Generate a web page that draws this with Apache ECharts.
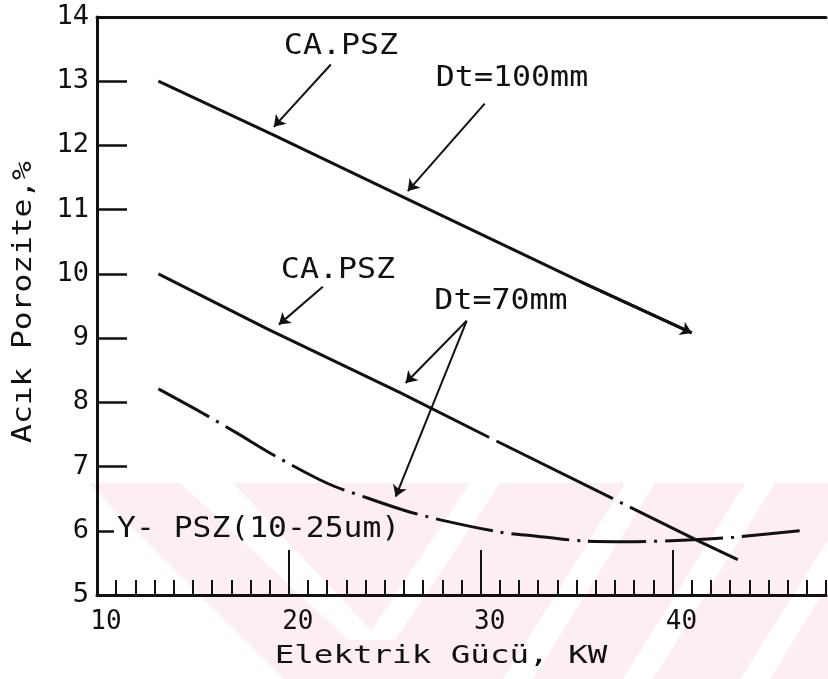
<!DOCTYPE html>
<html>
<head>
<meta charset="utf-8">
<script src="https://cdn.jsdelivr.net/npm/echarts@6/dist/echarts.min.js"></script>
<style>
  html, body { margin: 0; padding: 0; background: #fff; }
  #chart { width: 828px; height: 679px; }
</style>
</head>
<body>
<div id="chart"></div>
<script>
// Electric power (kW) on x, open porosity (%) on y
var ca100X = [13.2, 19.3, 25.8, 35.2, 41.0];
var ca100Y = [13.0, 12.15, 11.22, 9.88, 9.08];

var ca70SolidX = [13.2, 18.9, 25.8, 30.4];
var ca70SolidY = [10.0, 9.14, 8.15, 7.46];
var ca70DashX = [30.4, 37.7, 41.5, 43.4];
var ca70DashY = [7.46, 6.38, 5.82, 5.55];

var ypszX = [13.2, 15.4, 17.3, 19.2, 22.0, 24.1, 26.0, 27.9, 31.0, 32.8, 35.4, 37.7, 41.1, 43.2, 46.9];
var ypszY = [8.21, 7.85, 7.52, 7.18, 6.74, 6.51, 6.32, 6.17, 5.98, 5.92, 5.84, 5.83, 5.86, 5.90, 6.01];

var xTickLabels = [10, 20, 30, 40];
var yTickLabels = [5, 6, 7, 8, 9, 10, 11, 12, 13, 14];

// pointer arrows for the curve annotations, in data units [from, to]
var pointerArrows = [
  [[22.19, 13.26], [19.22, 12.29]],
  [[30.21, 12.65], [26.20, 11.29]],
  [[21.77, 9.80], [19.48, 9.21]],
  [[29.27, 9.27], [26.09, 8.30]],
  [[29.27, 9.27], [25.57, 6.53]]
];

function zip(xs, ys) { return xs.map(function (x, i) { return [x, ys[i]]; }); }

var FONT = 'DejaVu Sans Mono';
var INK = '#111';

var chart = echarts.init(document.getElementById('chart'), null, { renderer: 'canvas' });

// faint diagonal band pattern behind the lower part of the plot
var wmFill = '#fdeef1';
var wmBase = [[88, 483], [828, 483], [828, 679], [88, 679]];
var wmCuts = [
  [[88, 483], [88, 679], [284, 679]],
  [[180, 483], [233, 483], [380, 640], [348, 640]],
  [[470, 483], [500, 483], [395, 640], [365, 640]],
  [[625, 483], [655, 483], [533, 679], [503, 679]],
  [[745, 483], [775, 483], [653, 679], [623, 679]],
  [[828, 540], [828, 585], [770, 679], [740, 679]]
];
var wmGraphics = [
  { type: 'polygon', shape: { points: wmBase }, style: { fill: wmFill }, z: -10, silent: true }
].concat(wmCuts.map(function (p) {
  return { type: 'polygon', shape: { points: p }, style: { fill: '#ffffff' }, z: -9, silent: true };
}));

function label(text, x, y, size, sx, align, rot) {
  return {
    type: 'text', x: x, y: y, rotation: rot || 0, scaleX: sx, z: 20, silent: true,
    style: {
      text: text, fontSize: size, fontFamily: FONT, fill: INK,
      align: align || 'center', verticalAlign: 'middle'
    }
  };
}

var texts = [
  label('CA.PSZ', 341, 47, 28, 1.13),
  label('Dt=100mm', 512, 79, 28, 1.13),
  label('CA.PSZ', 338, 271, 28, 1.13),
  label('Dt=70mm', 501, 302, 28, 1.13),
  label('Y- PSZ(10-25um)', 117, 530, 28, 1.12, 'left'),
  label('Elektrik Gücü, KW', 441, 656, 25, 1.3),
  label('Acık Porozite,%', 24, 302, 26, 1.2, 'center', Math.PI / 2)
];

var lineBase = { type: 'line', showSymbol: false, symbol: 'none', silent: true, z: 5 };

var n = ca100X.length;
var option = {
  backgroundColor: '#ffffff',
  animation: false,
  grid: { left: 97, right: 2, top: 17, bottom: 84, containLabel: false },
  xAxis: [
    {
      type: 'value', min: 10, max: 48, interval: 10, position: 'bottom',
      axisLine: { show: true, onZero: false, lineStyle: { color: INK, width: 3 } },
      axisTick: { show: true, inside: true, length: 45, lineStyle: { color: INK, width: 2 } },
      axisLabel: {
        show: true, inside: false, margin: 14, color: INK, fontSize: 26, fontFamily: FONT,
        padding: [0, 0, 0, 18], showMaxLabel: false,
        formatter: function (v) { return xTickLabels.indexOf(v) >= 0 ? String(v) : ''; }
      },
      splitLine: { show: false }
    },
    {
      type: 'value', min: 10, max: 48, interval: 1, position: 'bottom',
      axisLine: { show: false, onZero: false },
      axisTick: { show: true, inside: true, length: 15, lineStyle: { color: INK, width: 2 } },
      axisLabel: { show: false },
      splitLine: { show: false }
    },
    {
      type: 'value', min: 10, max: 48, position: 'top',
      axisLine: { show: true, onZero: false, lineStyle: { color: INK, width: 3 } },
      axisTick: { show: false }, axisLabel: { show: false }, splitLine: { show: false }
    }
  ],
  yAxis: [
    {
      type: 'value', min: 5, max: 14, interval: 1,
      axisLine: { show: true, onZero: false, lineStyle: { color: INK, width: 3 } },
      axisTick: {
        show: true, inside: true, length: 30, lineStyle: { color: INK, width: 2.5 },
        customValues: [7, 8, 9, 10, 11, 12, 13]
      },
      axisLabel: {
        show: true, margin: 8, color: INK, fontSize: 27, fontFamily: FONT,
        formatter: function (v) { return yTickLabels.indexOf(v) >= 0 ? String(v) : ''; }
      },
      splitLine: { show: false }
    },
    {
      type: 'value', min: 5, max: 14, interval: 1, position: 'left',
      axisLine: { show: false, onZero: false },
      axisTick: {
        show: true, inside: true, length: 17, lineStyle: { color: INK, width: 2.5 },
        customValues: [6]
      },
      axisLabel: { show: false },
      splitLine: { show: false }
    }
  ],
  series: [
    Object.assign({}, lineBase, {
      name: 'CA.PSZ Dt=100mm', data: zip(ca100X, ca100Y),
      lineStyle: { color: INK, width: 3 }
    }),
    Object.assign({}, lineBase, {
      name: 'CA.PSZ Dt=70mm', data: zip(ca70SolidX, ca70SolidY),
      lineStyle: { color: INK, width: 3 }
    }),
    Object.assign({}, lineBase, {
      name: 'CA.PSZ Dt=70mm (devam)', data: zip(ca70DashX, ca70DashY),
      lineStyle: { color: INK, width: 3, type: [130, 8, 3, 8], dashOffset: 140 }
    }),
    Object.assign({}, lineBase, {
      name: 'Y-PSZ Dt=70mm', data: zip(ypszX, ypszY), smooth: 0.3,
      lineStyle: { color: INK, width: 3, type: [58, 8, 3, 8] }
    }),
    {
      type: 'lines', coordinateSystem: 'cartesian2d', silent: true, z: 6,
      symbol: ['none', 'arrow'], symbolSize: [0, 11],
      lineStyle: { color: INK, width: 2, opacity: 1, curveness: 0 },
      data: pointerArrows.map(function (a) { return { coords: a }; })
    },
    {
      type: 'lines', coordinateSystem: 'cartesian2d', silent: true, z: 6,
      symbol: ['none', 'arrow'], symbolSize: [0, 11],
      lineStyle: { color: INK, width: 3, opacity: 1, curveness: 0 },
      data: [{ coords: [[ca100X[n - 2], ca100Y[n - 2]], [ca100X[n - 1], ca100Y[n - 1]]] }]
    }
  ],
  graphic: { elements: wmGraphics.concat(texts) }
};

chart.setOption(option);
</script>
</body>
</html>
